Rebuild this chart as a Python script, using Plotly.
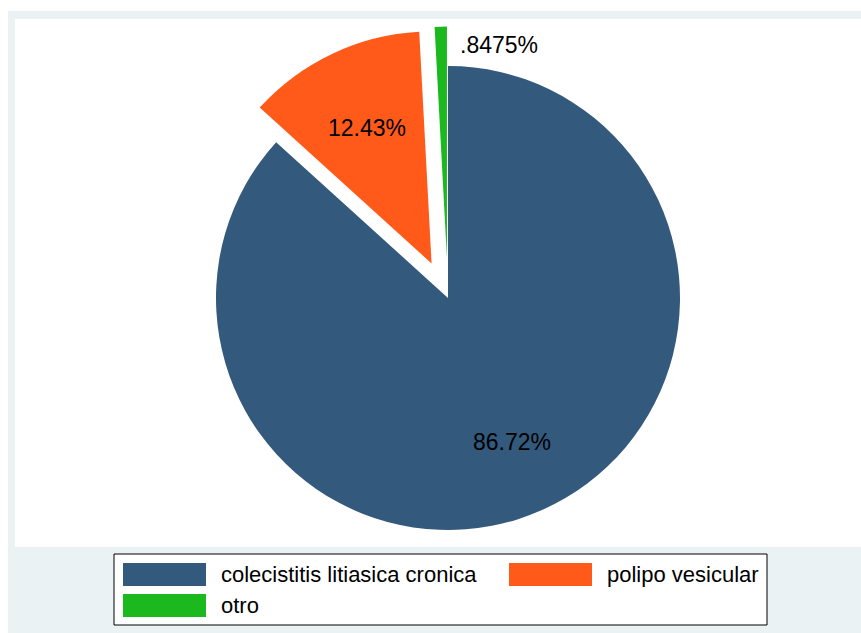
import math
import plotly.graph_objects as go

# ---- data ----
categories = ["colecistitis litiasica cronica", "polipo vesicular", "otro"]
values = [86.72, 12.43, 0.8475]
pct_labels = ["86.72%", "12.43%", ".8475%"]
colors = ["#33597D", "#FF5A1A", "#1BB81E"]
pulls = [0, 0.165, 0.17]

# ---- layout constants (pixels) ----
W, H = 861, 633
CX, CY, R = 448, 298, 232
FONT = "Liberation Sans, Arial, sans-serif"

maxpull = max(pulls)
half = R * (1 + maxpull)
dom_x = [(CX - half) / W, (CX + half) / W]
dom_y = [1 - (CY + half) / H, 1 - (CY - half) / H]

fig = go.Figure(go.Pie(
    labels=categories, values=values, marker=dict(colors=colors, line=dict(width=0)),
    pull=pulls, sort=False, direction="clockwise", rotation=0,
    textinfo="none", hoverinfo="label+percent", showlegend=False,
    domain=dict(x=dom_x, y=dom_y),
))

def px(x):
    return x / W

def py(y):
    return 1 - y / H

shapes = [
    dict(type="rect", xref="paper", yref="paper", x0=px(8), x1=1, y0=0, y1=py(11),
         fillcolor="#EAF2F3", line=dict(width=0), layer="below"),
    dict(type="rect", xref="paper", yref="paper", x0=px(15), x1=1, y0=py(547), y1=py(19),
         fillcolor="white", line=dict(width=0), layer="below"),
    dict(type="rect", xref="paper", yref="paper", x0=px(114), x1=px(767), y0=py(625), y1=py(554),
         fillcolor="white", line=dict(color="black", width=1), layer="below"),
]
annotations = []

# slice labels placed along each slice's mid-angle (measured from the pulled apex)
total = sum(values)
label_r = [0.68, 0.645, 0.92]
cum = 0.0
for i, v in enumerate(values):
    mid = (cum + v / 2) / total * 2 * math.pi
    cum += v
    d = (label_r[i] + pulls[i]) * R
    x = CX + d * math.sin(mid)
    y = CY - d * math.cos(mid)
    outside = i == 2
    annotations.append(dict(
        x=px(x), y=py(y), xref="paper", yref="paper", text=pct_labels[i], showarrow=False,
        xanchor="left" if outside else "center", yanchor="middle", xshift=17 if outside else 0,
        font=dict(family=FONT, size=23, color="black"),
    ))

# legend
col_x = [123, 509]
row_y = [574.5, 605.5]
sw_w, sw_h = 83, 23
for i, (lab, c) in enumerate(zip(categories, colors)):
    x0 = col_x[i % 2]
    yc = row_y[i // 2]
    shapes.append(dict(type="rect", xref="paper", yref="paper", x0=px(x0), x1=px(x0 + sw_w),
                       y0=py(yc + sw_h / 2), y1=py(yc - sw_h / 2), fillcolor=c,
                       line=dict(width=0), layer="above"))
    annotations.append(dict(x=px(x0 + 96), y=py(yc), xref="paper", yref="paper", text=lab,
                            showarrow=False, xanchor="left", yanchor="middle",
                            font=dict(family=FONT, size=22, color="black")))

fig.update_layout(
    width=W, height=H, autosize=False, margin=dict(l=0, r=0, t=0, b=0),
    paper_bgcolor="white", plot_bgcolor="white",
    shapes=shapes, annotations=annotations,
)
fig.write_html("out.html")
